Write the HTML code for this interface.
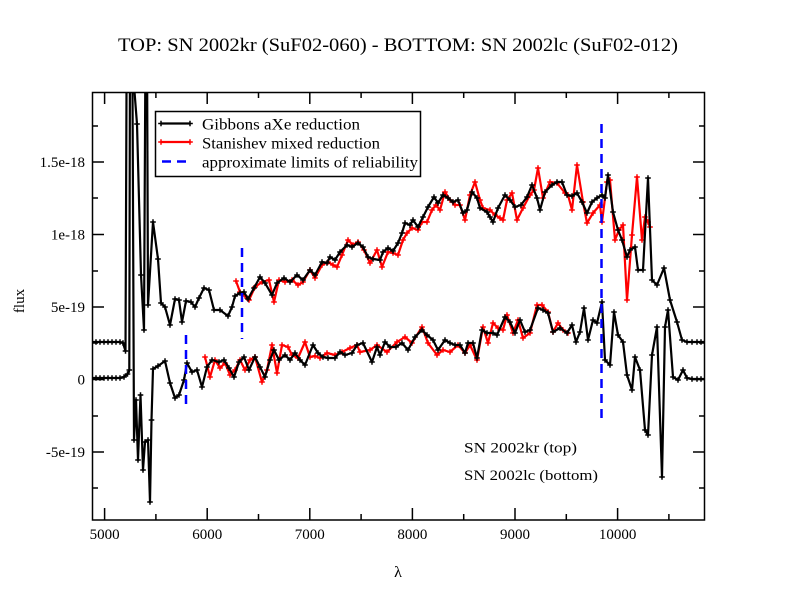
<!DOCTYPE html>
<html><head><meta charset="utf-8"><style>
html,body{margin:0;padding:0;background:#fff;}
svg{display:block;}
text{font-family:"Liberation Serif","Times New Roman",serif;fill:#000;}
</style></head><body>
<svg width="792" height="612" viewBox="0 0 792 612" xmlns="http://www.w3.org/2000/svg">
<defs>
<clipPath id="c"><rect x="92" y="92" width="613" height="428"/></clipPath>
<marker id="mb" markerUnits="userSpaceOnUse" markerWidth="8" markerHeight="8" refX="4" refY="4" viewBox="0 0 8 8"><path d="M1.2 4H6.8M4 1.2V6.8" stroke="#000" stroke-width="1.5"/></marker>
<marker id="mr" markerUnits="userSpaceOnUse" markerWidth="8" markerHeight="8" refX="4" refY="4" viewBox="0 0 8 8"><path d="M1.2 4H6.8M4 1.2V6.8" stroke="#f00" stroke-width="1.5"/></marker>
</defs>
<rect width="792" height="612" fill="#fff"/>
<text x="398" y="51" font-size="19" text-anchor="middle" textLength="560" lengthAdjust="spacingAndGlyphs">TOP: SN 2002kr (SuF02-060) - BOTTOM: SN 2002lc (SuF02-012)</text>

<g clip-path="url(#c)" fill="none" stroke-linejoin="round">
<polyline stroke="#f00" stroke-width="2.2" marker-start="url(#mr)" marker-mid="url(#mr)" marker-end="url(#mr)" points="236,281 240,292 245,296 249,300 255,287 262,282 269,280 274,302 279,280 285,282 292,280 298,285 303,282 310,270 315,278 322,265 328,262 333,265 337,267 342,255 348,240 353,245 358,242 364,250 370,263 377,250 382,267 388,252 393,253 398,255 403,240 407,233 412,228 418,230 422,222 427,222 432,210 436,205 440,210 445,192 450,200 455,205 460,205 465,220 470,195 475,182 480,200 483,208 490,210 495,215 500,218 503,220 507,200 512,193 517,220 523,208 530,195 534,190 538,168 543,198 550,182 557,183 565,193 568,195 572,210 577,165 583,202 587,223 593,213 600,205 602,222 607,182 610,180 615,240 619,230 623,225 627,300 632,235 637,177 642,240 645,217 648,222 650,227"/>
<polyline stroke="#f00" stroke-width="2.2" marker-start="url(#mr)" marker-mid="url(#mr)" marker-end="url(#mr)" points="205,357 210,377 215,360 220,368 225,363 230,375 235,370 240,360 245,370 250,360 255,357 262,382 267,370 272,345 277,373 282,345 288,347 292,355 298,358 305,342 310,357 315,356 320,358 327,353 335,355 342,352 350,348 357,345 360,352 370,350 377,345 387,352 397,342 405,337 412,343 422,327 428,343 437,355 443,350 450,352 458,345 465,353 470,345 477,360 483,327 488,343 493,323 498,328 503,330 507,315 513,333 518,320 523,338 530,333 537,305 542,305 548,312 553,332 558,323 563,330 568,333"/>
<polyline stroke="#000" stroke-width="2.2" marker-start="url(#mb)" marker-mid="url(#mb)" marker-end="url(#mb)" points="92,342 96,342 100,342 104,342 108,342 112,342 116,342 120,342 123,343 125.5,351 126.7,40 130.5,40 137,124 141,275 144,330 145.5,40 147,40 148,305 153,222 158,259 161,303 165,307 170,325 175,299 179,300 182,322 186,301 191,302 195,307 199,298 204,288 209,290 214,310 220,310 228,316 232,307 235,296 240,293 244,292 248,299 254,288 260,277 265,283 272,295 277,283 284,278 290,282 297,275 303,280 310,270 315,275 322,262 327,263 330,257 335,260 340,252 347,245 352,247 358,243 363,247 368,257 373,259 380,260 383,252 388,248 393,251 398,243 402,233 405,223 410,225 413,220 418,227 423,217 428,207 434,197 438,203 443,195 448,198 453,202 458,200 463,213 467,210 472,192 477,198 480,208 487,212 490,217 493,222 498,208 505,195 510,200 515,207 521,205 527,197 532,185 537,198 540,210 545,192 552,185 557,182 562,182 567,195 572,196 577,193 582,202 587,213 592,202 597,198 602,195 605,198 608,175 613,212 618,230 622,240 627,257 630,250 635,247 638,270 643,270 648,178 652,280 657,285 664,268 670,300 677,322 682,340 687,342 692,342 697,342 701,342 705,342"/>
<polyline stroke="#000" stroke-width="2.2" marker-start="url(#mb)" marker-mid="url(#mb)" marker-end="url(#mb)" points="92,378 96,378 100,378 104,378 108,378 112,378 116,378 120,378 124,377 127.5,374 129.3,370 130,40 132.3,40 134,440 136,400 138,460 140.5,395 143,470 145,442 148,440 150,502 151.5,420 153,369 158,366 165,361 170,383 175,398 179,395 184,380 187,363 192,372 197,370 202,387 207,367 212,360 219,362 224,360 229,368 234,377 239,362 244,357 249,370 255,357 260,367 265,377 270,360 274,350 279,360 285,355 290,360 295,353 300,360 305,365 313,345 318,353 323,357 328,358 335,358 340,352 345,355 352,353 357,345 363,343 372,362 377,347 380,355 385,342 390,347 396,347 402,343 408,350 415,337 422,330 427,335 433,340 438,350 445,340 450,343 455,345 460,345 465,353 468,343 473,343 477,358 482,330 487,333 493,333 497,335 505,317 510,322 515,333 520,320 525,332 530,330 538,308 543,310 548,313 553,332 560,328 567,333 572,325 576,342 580,332 584,308 588,340 593,320 597,323 602,302 605,360 610,365 614,312 618,335 623,342 627,375 632,390 635,357 640,370 645,430 648,435 652,355 657,327 662,477 665,327 668,310 673,377 678,380 683,370 687,378 692,379 697,379 701,379 705,379"/>
<g stroke="#00f" stroke-width="2.5" stroke-dasharray="9,6">
<line x1="186" y1="335" x2="186" y2="409"/>
<line x1="242" y1="248" x2="242" y2="339"/>
<line x1="601.5" y1="124" x2="601.5" y2="423"/>
</g>
</g>

<rect x="92.5" y="92.5" width="612" height="427.5" fill="none" stroke="#000" stroke-width="1.5"/>
<g stroke="#000" stroke-width="1.5">
<path d="M104.6 520v-12M207.2 520v-12M309.8 520v-12M412.4 520v-12M515 520v-12M617.6 520v-12
M104.6 92v12M207.2 92v12M309.8 92v12M412.4 92v12M515 92v12M617.6 92v12
M155.9 520v-6M258.5 520v-6M361.1 520v-6M463.7 520v-6M566.3 520v-6M668.9 520v-6
M155.9 92v6M258.5 92v6M361.1 92v6M463.7 92v6M566.3 92v6M668.9 92v6
M92 162h12M92 234.5h12M92 307h12M92 379.5h12M92 452h12
M705 162h-12M705 234.5h-12M705 307h-12M705 379.5h-12M705 452h-12
M92 126h6M92 198h6M92 271h6M92 343h6M92 416h6M92 488h6
M705 126h-6M705 198h-6M705 271h-6M705 343h-6M705 416h-6M705 488h-6"/>
</g>
<g font-size="15" text-anchor="middle">
<text x="104.6" y="539">5000</text>
<text x="207.2" y="539">6000</text>
<text x="309.8" y="539">7000</text>
<text x="412.4" y="539">8000</text>
<text x="515" y="539">9000</text>
<text x="617.6" y="539">10000</text>
</g>
<g font-size="15" text-anchor="end">
<text x="85" y="167">1.5e-18</text>
<text x="85" y="239.5">1e-18</text>
<text x="85" y="312">5e-19</text>
<text x="85" y="384.5">0</text>
<text x="85" y="457">-5e-19</text>
</g>
<text x="0" y="0" font-size="15" text-anchor="middle" transform="translate(24,301) rotate(-90)">flux</text>
<text x="398" y="577" font-size="16" text-anchor="middle">λ</text>
<text x="464" y="452.5" font-size="15" textLength="113" lengthAdjust="spacingAndGlyphs">SN 2002kr (top)</text>
<text x="464" y="480" font-size="15" textLength="134" lengthAdjust="spacingAndGlyphs">SN 2002lc (bottom)</text>

<rect x="155.5" y="111.5" width="265" height="65" fill="#fff" stroke="#000" stroke-width="1.5"/>
<line x1="161" y1="123.5" x2="190" y2="123.5" stroke="#000" stroke-width="2.2" marker-start="url(#mb)" marker-end="url(#mb)"/>
<line x1="161" y1="142" x2="190" y2="142" stroke="#f00" stroke-width="2.2" marker-start="url(#mr)" marker-end="url(#mr)"/>
<line x1="162" y1="161.5" x2="190" y2="161.5" stroke="#00f" stroke-width="2.5" stroke-dasharray="9,6"/>
<g font-size="16">
<text x="202" y="129.5" textLength="158" lengthAdjust="spacingAndGlyphs">Gibbons aXe reduction</text>
<text x="202" y="148.5" textLength="178" lengthAdjust="spacingAndGlyphs">Stanishev mixed reduction</text>
<text x="202" y="167.5" textLength="216" lengthAdjust="spacingAndGlyphs">approximate limits of reliability</text>
</g>
</svg>
</body></html>
